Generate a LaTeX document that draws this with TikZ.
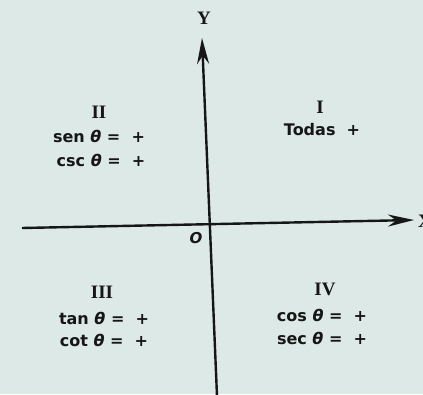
\documentclass[tikz,border=0pt]{standalone}
\usepackage{fontspec}
\setmainfont{DejaVu Sans}
\newfontfamily\numfont{Liberation Serif}
\usetikzlibrary{arrows.meta}
\definecolor{paper}{RGB}{221,233,231}
\definecolor{ink}{RGB}{22,22,22}
\begin{document}
\begin{tikzpicture}[x=1pt,y=-1pt,
  lbl/.style={font=\bfseries\fontsize{16}{18}\selectfont, text=ink, inner sep=0pt},
  quad/.style={font=\numfont\bfseries\fontsize{19}{21}\selectfont, text=ink, inner sep=0pt},
  axis/.style={draw=ink, line width=2.4pt, -{Stealth[length=26pt,width=12pt]}}]
\useasboundingbox (0,0) rectangle (423,394);
\clip (0,0) rectangle (423,394);
\fill[paper] (0,0) rectangle (423,394);
% axes
\coordinate (yb) at (217,396);
\coordinate (yt) at (202,38);
\coordinate (xl) at (22,228);
\coordinate (xr) at (414,220);
\draw[axis] (xl) -- (xr);
\draw[axis] (yb) -- (yt);
\node[quad] (Y) at (204,18) {Y};
\node[lbl, font=\itshape\bfseries\fontsize{15}{17}\selectfont] (O) at (196,238) {O};
\node[quad, anchor=west] (X) at (418,221) {X};
% quadrant I
\node[quad] (q1) at (320,107) {I};
\node[lbl] (t1) at (322,130) {Todas\ \ +};
% quadrant II
\node[quad] (q2) at (99,112) {II};
\node[lbl] (s2) at (99,136) {sen \textit{θ} = \ +};
\node[lbl] (c2) at (101,160) {csc \textit{θ} = \ +};
% quadrant III
\node[quad] (q3) at (102,292) {III};
\node[lbl] (t3) at (104,318) {tan \textit{θ} = \ +};
\node[lbl] (c3) at (104,340) {cot \textit{θ} = \ +};
% quadrant IV
\node[quad] (q4) at (325,289) {IV};
\node[lbl] (c4) at (322,315) {cos \textit{θ} = \ +};
\node[lbl] (s4) at (322,338) {sec \textit{θ} = \ +};
\end{tikzpicture}
\end{document}
